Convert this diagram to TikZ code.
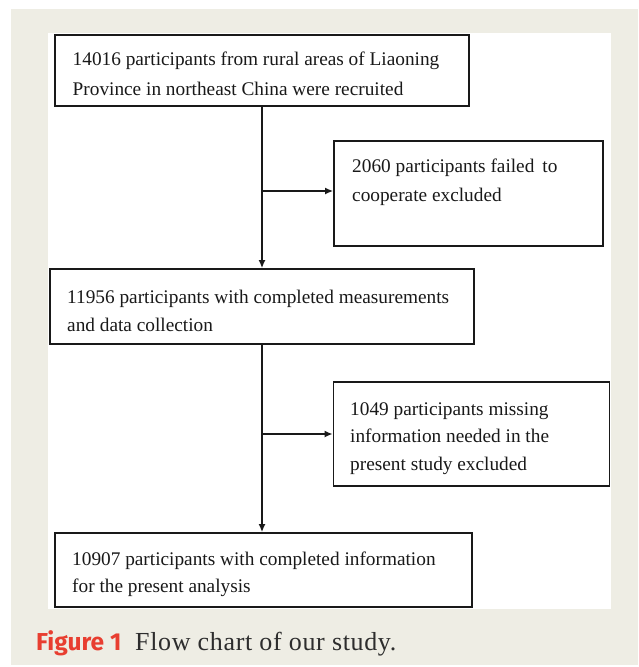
\documentclass[tikz,border=0pt]{standalone}
\usepackage{fontspec}
\setmainfont{Liberation Serif}
\newfontfamily\capsans{Fira Sans}
\newfontfamily\capserif[LetterSpace=2.5]{Liberation Serif}
\usetikzlibrary{arrows.meta}
\definecolor{bgbeige}{RGB}{238,237,228}
\definecolor{capred}{RGB}{232,62,48}
\definecolor{captext}{RGB}{45,45,45}
\tikzset{
  flowbox/.style={draw=black!90, line width=1.7pt, inner sep=0pt, fill=white},
  boxtext/.style={anchor=base west, inner sep=0pt, font=\fontsize{19.3}{22}\selectfont, text=black!90},
  flowline/.style={line width=1.7pt, draw=black!90},
  flowarrow/.style={flowline, -{Latex[length=8pt,width=7pt]}},
}
\begin{document}
\begin{tikzpicture}[x=1pt,y=-1pt]
\useasboundingbox (0,0) rectangle (638,667);
\fill[white] (0,0) rectangle (638,667);
\fill[bgbeige] (11,9) rectangle (638,665);
\fill[white] (48,33) rectangle (611,609);

% boxes
\node[flowbox, minimum width=414pt, minimum height=71pt] (b1) at (262,70.5) {};
\node[flowbox, minimum width=269pt, minimum height=105pt] (b2) at (468.5,193.5) {};
\node[flowbox, minimum width=424pt, minimum height=75pt] (b3) at (262,306.5) {};
\node[flowbox, minimum width=276pt, minimum height=104pt] (b4) at (471.5,434) {};
\node[flowbox, minimum width=417pt, minimum height=74pt] (b5) at (263.5,570) {};

% texts
\node[boxtext] (t1a) at (72.5,65.7) {14016 participants from rural areas of Liaoning};
\node[boxtext] (t1b) at (72.5,95) {Province in northeast China were recruited};
\node[boxtext] (t2a) at (352,172.7) {2060 participants failed\, to};
\node[boxtext] (t2b) at (352,201.7) {cooperate excluded};
\node[boxtext] (t3a) at (67,303) {11956 participants with completed measurements};
\node[boxtext] (t3b) at (67,331) {and data collection};
\node[boxtext] (t4a) at (350,415) {1049 participants missing};
\node[boxtext] (t4b) at (350,442) {information needed in the};
\node[boxtext] (t4c) at (350,470) {present study excluded};
\node[boxtext] (t5a) at (72,565) {10907 participants with completed information};
\node[boxtext] (t5b) at (72,592) {for the present analysis};

% connectors
\coordinate (j1) at (262,191);
\coordinate (j2) at (262,434);
\draw[flowarrow] (b1.south) -- (b3.north);
\draw[flowarrow] (j1) -- (j1 -| b2.west);
\draw[flowarrow] (b3.south) -- (b3.south |- b5.north);
\draw[flowarrow] (j2) -- (j2 -| b4.west);

% caption
\node[anchor=base west, inner sep=0pt, font=\capsans\bfseries\fontsize{24.5}{27}\selectfont, text=capred] (cap1) at (36,650) {Figure 1};
\node[anchor=base west, inner sep=0pt, font=\capserif\fontsize{26}{28}\selectfont, text=captext] (cap2) at (135,650) {Flow chart of our study.};
\end{tikzpicture}
\end{document}
